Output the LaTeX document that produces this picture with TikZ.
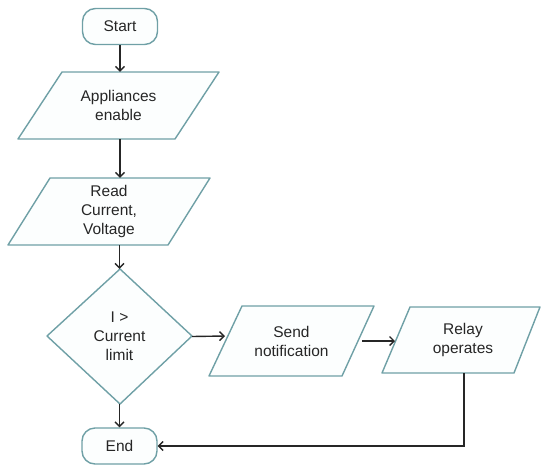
\documentclass[tikz,border=0pt]{standalone}
\usepackage{fontspec}
\setmainfont{Liberation Sans}
\usetikzlibrary{arrows.meta}
\definecolor{edgecol}{HTML}{6FA0A6}
\definecolor{shapefill}{HTML}{FCFEFE}
\definecolor{ink}{HTML}{262626}
\begin{document}
\begin{tikzpicture}[x=1pt,y=-1pt,
  shapeline/.style={draw=edgecol, fill=shapefill, line width=1.4pt, line join=round},
  lbl/.style={font=\fontsize{15.5}{19}\selectfont, text=ink, align=center, inner sep=0pt},
  terminal/.style={lbl, shapeline, rounded corners=13pt, minimum width=75pt, minimum height=36pt},
  flow/.style={draw=ink, line width=1.4pt, -{Straight Barb[length=4.5pt,width=9pt]}}]
\useasboundingbox (0,0) rectangle (541,464);
% terminals
\node[terminal] (start) at (120,26.5) {Start};
\node[terminal] (stop) at (119.5,446) {End};
% parallelograms
\draw[shapeline] (62,72) -- (219,72) -- (175,139) -- (18,139) -- cycle;
\node[lbl, minimum width=157pt, minimum height=67pt] (app) at (118.5,105.5) {Appliances\\enable};
\draw[shapeline] (50,178) -- (210,178) -- (168,245) -- (8,245) -- cycle;
\node[lbl, minimum width=160pt, minimum height=67pt] (read) at (109,211.5) {Read\\Current,\\Voltage};
\draw[shapeline] (242,306) -- (374,306) -- (342,376) -- (209,376) -- cycle;
\node[lbl, minimum width=132pt, minimum height=70pt] (send) at (291.5,341) {Send\\notification};
\draw[shapeline] (410,307) -- (540,307) -- (514,373) -- (382,373) -- cycle;
\node[lbl, minimum width=130pt, minimum height=66pt] (relay) at (463,340) {Relay\\operates};
% decision
\draw[shapeline] (120,269) -- (192,336) -- (120,404) -- (47,336) -- cycle;
\node[lbl, minimum width=145pt, minimum height=135pt] (dia) at (119.5,336.5) {I >\\Current\\limit};
% connector ends
\coordinate (sendin) at (225,336);
\coordinate (sendout) at (362,341);
\coordinate (relayin) at (395,341);
\coordinate (relaydown) at (464,446);
% connectors
\draw[flow] (start.south) -- (start.south |- app.north);
\draw[flow] (start.south |- app.south) -- (start.south |- read.north);
\draw[flow] (dia.north |- read.south) -- (dia.north);
\draw[flow] (dia.south) -- (stop.north);
\draw[flow] (dia.east) -- (sendin);
\draw[flow] (sendout) -- (relayin);
\draw[flow] (relaydown |- relay.south) -- (relaydown) -- (stop.east);
\end{tikzpicture}
\end{document}
